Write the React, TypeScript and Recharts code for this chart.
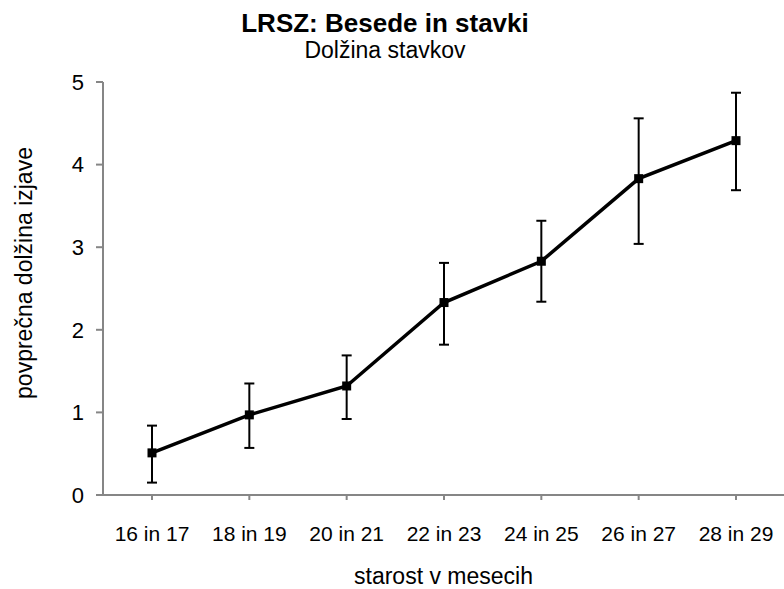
import { LineChart, Line, XAxis, YAxis, ErrorBar } from "recharts";

const categories = ["16 in 17", "18 in 19", "20 in 21", "22 in 23", "24 in 25", "26 in 27", "28 in 29"];
const means = [0.51, 0.97, 1.32, 2.33, 2.83, 3.83, 4.29];
const upper = [0.84, 1.35, 1.69, 2.81, 3.32, 4.56, 4.87];
const lower = [0.15, 0.57, 0.92, 1.82, 2.34, 3.04, 3.69];
const yTicks = [0, 1, 2, 3, 4, 5];

const data = categories.map((c, i) => ({
  starost: c,
  dolzina: means[i],
  napaka: [+(means[i] - lower[i]).toFixed(2), +(upper[i] - means[i]).toFixed(2)],
}));

const FONT = "'Liberation Sans', Arial, sans-serif";
const AXIS = "#868686";

function SquareDot(props: any) {
  const { cx, cy } = props;
  if (cx == null || cy == null) return null;
  return <rect x={cx - 4.5} y={cy - 4.5} width={9} height={9} fill="#000" />;
}

function YLabel() {
  return (
    <text
      x={24}
      y={273}
      transform="rotate(-90 24 273)"
      textAnchor="middle"
      dominantBaseline="central"
      fontSize={23}
      fill="#000"
      fontFamily={FONT}
    >
      povprečna dolžina izjave
    </text>
  );
}

export default function App() {
  return (
    <div style={{ position: "absolute", left: 0, top: 0, width: 784, height: 589, background: "#fff", fontFamily: FONT }}>
      <svg width={784} height={70} style={{ position: "absolute", left: 0, top: 0 }}>
        <text x={385} y={32} textAnchor="middle" fontSize={26} fontWeight="bold" fontFamily={FONT} fill="#000">
          LRSZ: Besede in stavki
        </text>
        <text x={385} y={58} textAnchor="middle" fontSize={23} fontFamily={FONT} fill="#000">
          Dolžina stavkov
        </text>
      </svg>
      <LineChart width={784} height={589} data={data} margin={{ top: 82, right: 0, left: 0, bottom: 0 }}>
        <XAxis
          dataKey="starost"
          height={94}
          padding={{ left: 49, right: 48 }}
          stroke={AXIS}
          strokeWidth={2}
          tickSize={5}
          tickMargin={26}
          tick={{ fontSize: 21, fill: "#000", fontFamily: FONT }}
          label={{ value: "starost v mesecih", position: "insideBottom", offset: 5, fontSize: 23, fill: "#000", fontFamily: FONT }}
        />
        <YAxis
          domain={[0, 5]}
          ticks={yTicks}
          width={103}
          stroke={AXIS}
          strokeWidth={2}
          tickSize={7}
          tickMargin={12}
          tick={{ fontSize: 22, fill: "#000", fontFamily: FONT }}
          label={{ content: () => <YLabel /> }}
        />
        <Line
          type="linear"
          dataKey="dolzina"
          stroke="#000"
          strokeWidth={3.5}
          dot={<SquareDot />}
          activeDot={false}
          isAnimationActive={false}
        >
          <ErrorBar dataKey="napaka" width={5} stroke="#000" strokeWidth={2} direction="y" isAnimationActive={false} />
        </Line>
      </LineChart>
    </div>
  );
}
